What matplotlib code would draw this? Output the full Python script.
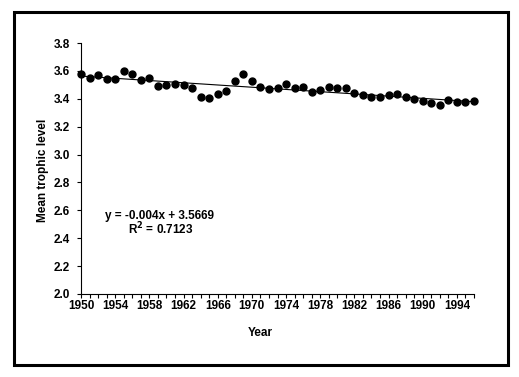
import numpy as np
import matplotlib
matplotlib.use("Agg")
import matplotlib.pyplot as plt
from matplotlib.patches import Rectangle

plt.rcParams['font.family'] = ['Liberation Sans', 'DejaVu Sans']
plt.rcParams['font.weight'] = 'bold'

# mean trophic level of catches, 1950-1996
years = list(range(1950, 1997))
trophic = [3.576, 3.552, 3.574, 3.543, 3.543, 3.598, 3.576, 3.536, 3.552, 3.493,
           3.500, 3.507, 3.500, 3.476, 3.416, 3.407, 3.431, 3.459, 3.529, 3.581,
           3.529, 3.483, 3.469, 3.476, 3.507, 3.474, 3.483, 3.452, 3.462, 3.483,
           3.476, 3.476, 3.445, 3.424, 3.414, 3.414, 3.424, 3.431, 3.414, 3.400,
           3.386, 3.371, 3.355, 3.393, 3.379, 3.379, 3.386]
year_labels = list(range(1950, 1995, 4))
equation = "y = -0.004x + 3.5669"
r_squared = "R$^2$ = 0.7123"

W, H = 519, 377
fig = plt.figure(figsize=(W / 100, H / 100), dpi=100)
ax = fig.add_axes([81 / W, 1 - 294 / H, (474 - 81) / W, (294 - 43) / H])

# linear trend against the category index (1..n), like the spreadsheet fit
idx = np.arange(1, len(years) + 1)
slope, intercept = np.polyfit(idx, trophic, 1)
ax.plot(years, intercept + slope * idx, color='black', lw=0.8, clip_on=False)

ax.plot(years, trophic, 'o', color='black', markersize=5, clip_on=False, zorder=3)

ax.set_xlim(years[0], years[-1])
ax.set_ylim(2.0, 3.8)
ax.set_yticks(np.arange(2.0, 3.81, 0.2))
ax.set_yticklabels([f"{v:.1f}" for v in np.arange(2.0, 3.81, 0.2)])
ax.set_xticks(years, minor=True)
ax.set_xticks(year_labels)
ax.set_xticklabels([str(y) for y in year_labels])

ax.spines['top'].set_visible(False)
ax.spines['right'].set_visible(False)
for s in ['left', 'bottom']:
    ax.spines[s].set_linewidth(0.8)
ax.tick_params(axis='both', direction='out', length=3, width=0.8, labelsize=8.5, pad=1.5)
ax.tick_params(axis='y', pad=5)
ax.tick_params(axis='x', which='minor', direction='out', length=3, width=0.8)

fig.text(43 / W, 1 - 170 / H, "Mean trophic level", rotation=90, ha='center', va='center',
         fontsize=8.5, fontweight='bold')
fig.text(260 / W, 1 - 333 / H, "Year", ha='center', va='center', fontsize=8.5, fontweight='bold')
fig.text(105 / W, 1 - 216 / H, equation, ha='left', va='center', fontsize=8.5, fontweight='bold')
fig.text(128 / W, 1 - 229 / H, r_squared, ha='left', va='center', fontsize=8.5, fontweight='bold')

# outer chart frame
fig.patches.append(Rectangle((13.5 / W, 1 - 365 / H), (507.5 - 13.5) / W, (365 - 12) / H,
                             transform=fig.transFigure, fill=False, edgecolor='black', lw=2.2))

fig.savefig("out.png", dpi=100)
